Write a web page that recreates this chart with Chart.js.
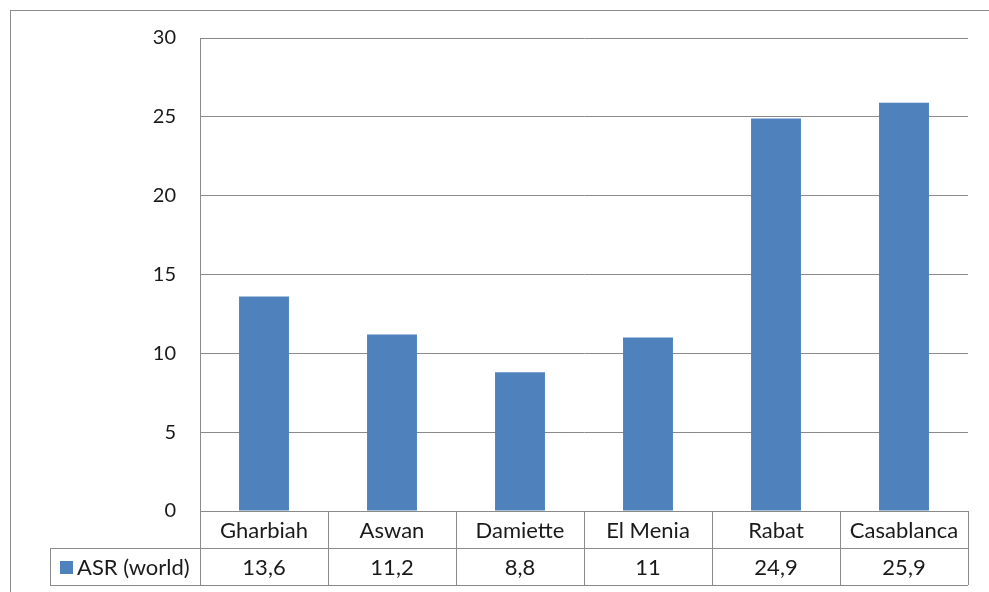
<!DOCTYPE html>
<html>
<head>
<meta charset="utf-8">
<script src="https://cdn.jsdelivr.net/npm/chart.js@4/dist/chart.umd.min.js"></script>
<style>
html,body{margin:0;padding:0;background:#fff;}
#wrap{width:989px;height:592px;position:relative;}
</style>
</head>
<body>
<div id="wrap"><canvas id="c" width="989" height="592"></canvas></div>
<script>
const categories = ["Gharbiah", "Aswan", "Damiette", "El Menia", "Rabat", "Casablanca"];
const seriesName = "ASR (world)";
const asrWorld = [13.6, 11.2, 8.8, 11, 24.9, 25.9];
const valueLabels = ["13,6", "11,2", "8,8", "11", "24,9", "25,9"];
const yTicks = [0, 5, 10, 15, 20, 25, 30];

const FONT = "Lato, 'Open Sans', sans-serif";
const LINE = "#8a8a8a";
const BAR = "#4F81BD";

const tablePlugin = {
  id: "dataTable",
  beforeDraw(chart) {
    const ctx = chart.ctx;
    ctx.save();
    ctx.fillStyle = "#fff";
    ctx.fillRect(0, 0, chart.width, chart.height);
    ctx.strokeStyle = LINE;
    ctx.lineWidth = 1;
    ctx.strokeRect(10.5, 10.5, 2000, 2000);
    ctx.restore();
  },
  afterDraw(chart) {
    const ctx = chart.ctx;
    const ca = chart.chartArea;
    const x = chart.scales.x;
    const n = categories.length;
    const cw = (ca.right - ca.left) / n;
    const r1 = ca.bottom, r2 = ca.bottom + 37, r3 = ca.bottom + 74;
    const legLeft = 50;
    ctx.save();
    ctx.strokeStyle = LINE;
    ctx.lineWidth = 1;
    ctx.beginPath();
    ctx.moveTo(ca.left, Math.round(r1) + 0.5); ctx.lineTo(ca.right, Math.round(r1) + 0.5);
    ctx.moveTo(legLeft, Math.round(r2) + 0.5); ctx.lineTo(ca.right, Math.round(r2) + 0.5);
    ctx.moveTo(legLeft, Math.round(r3) + 0.5); ctx.lineTo(ca.right, Math.round(r3) + 0.5);
    for (let i = 0; i <= n; i++) {
      const xx = Math.round(ca.left + i * cw) + 0.5;
      ctx.moveTo(xx, r1); ctx.lineTo(xx, r3);
    }
    ctx.moveTo(legLeft + 0.5, r2); ctx.lineTo(legLeft + 0.5, r3);
    ctx.stroke();

    ctx.fillStyle = "#1a1a1a";
    ctx.font = "22px " + FONT;
    ctx.textAlign = "center";
    ctx.textBaseline = "middle";
    for (let i = 0; i < n; i++) {
      const cx = x.getPixelForValue(i);
      ctx.fillText(categories[i], cx, (r1 + r2) / 2 + 1);
      ctx.fillText(valueLabels[i], cx, (r2 + r3) / 2 + 1);
    }
    ctx.fillStyle = BAR;
    ctx.fillRect(60, r2 + 13, 13, 13);
    ctx.fillStyle = "#1a1a1a";
    ctx.textAlign = "left";
    ctx.fillText(seriesName, 77, (r2 + r3) / 2 + 1);
    ctx.restore();
  }
};

new Chart(document.getElementById("c"), {
  type: "bar",
  data: {
    labels: categories,
    datasets: [{
      label: seriesName,
      data: asrWorld,
      backgroundColor: BAR,
      borderWidth: 0,
      categoryPercentage: 1,
      barPercentage: 0.39
    }]
  },
  options: {
    responsive: false,
    animation: false,
    devicePixelRatio: 1,
    layout: { padding: { left: 0, top: 38, right: 21, bottom: 81 } },
    plugins: { legend: { display: false }, tooltip: { enabled: false } },
    scales: {
      x: { display: false },
      y: {
        min: 0, max: 30,
        afterFit(scale) { scale.width = 200; },
        afterBuildTicks(scale) { scale.ticks = yTicks.map(v => ({ value: v })); },
        ticks: {
          stepSize: 5,
          padding: 24,
          color: "#1a1a1a",
          font: { family: FONT, size: 20 }
        },
        grid: { color: LINE, lineWidth: 1, drawTicks: false },
        border: { color: LINE, width: 1 }
      }
    }
  },
  plugins: [tablePlugin]
});
</script>
</body>
</html>
